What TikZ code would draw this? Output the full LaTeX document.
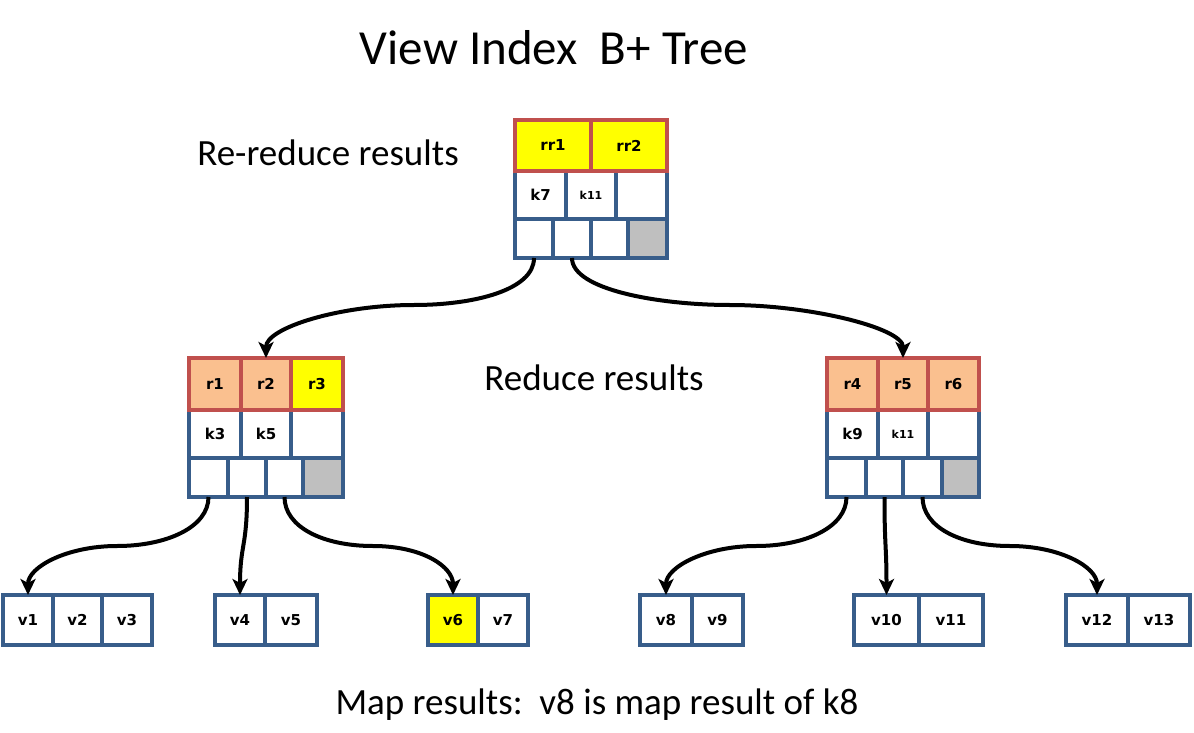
\documentclass[tikz,border=0pt]{standalone}
\usepackage{fontspec}
\setmainfont{Carlito}
\newfontfamily\cellfnt{DejaVu Sans}
\usetikzlibrary{arrows.meta}
\definecolor{bblue}{RGB}{56,93,138}
\definecolor{rred}{RGB}{192,80,77}
\definecolor{peach}{RGB}{250,192,143}
\definecolor{ylw}{RGB}{255,255,0}
\definecolor{gry}{RGB}{191,191,191}
\newcommand\cellat[7]{\node[#6, minimum width={(#4)-(#2)}, minimum height={(#5)-(#3)}] (#1) at ({((#2)+(#4))/2},{((#3)+(#5))/2}) {#7};}
\begin{document}
\begin{tikzpicture}[x=1pt,y=-1pt,
  cellb/.style={draw=bblue, line width=3.6pt, fill=white, inner sep=0pt, outer sep=0pt, font=\cellfnt\bfseries\fontsize{15}{15}\selectfont},
  cellr/.style={cellb, draw=rred},
  small/.style={font=\cellfnt\bfseries\fontsize{11}{11}\selectfont},
  arr/.style={line width=4pt, -{Stealth[length=16pt,width=15pt,inset=4pt]}},
  lbl/.style={font=\fontsize{37}{40}\selectfont, inner sep=0pt}]
\useasboundingbox (0,0) rectangle (1194,733);
\fill[white] (0,0) rectangle (1194,733);

% titles
\node[lbl, font=\fontsize{49}{50}\selectfont] (title) at (554,48) {View Index\ \ B+ Tree};
\node[lbl] (rrlab) at (328,153) {Re-reduce results};
\node[lbl] (rlab) at (594,378) {Reduce results};
\node[lbl] (mlab) at (597,705) {Map results:\ \ v8 is map result of k8};

% root node
\cellat{rk1}{515}{171}{566}{219}{cellb}{k7}
\cellat{rk2}{566}{171}{616}{219}{cellb, small}{k11}
\cellat{rk3}{616}{171}{667}{219}{cellb}{}
\cellat{rb1}{515}{219}{553}{258}{cellb}{}
\cellat{rb2}{553}{219}{591}{258}{cellb}{}
\cellat{rb3}{591}{219}{628}{258}{cellb}{}
\cellat{rb4}{628}{219}{667}{258}{cellb, fill=gry}{}
\cellat{rr1}{515}{120}{591}{171}{cellr, fill=ylw}{rr1}
\cellat{rr2}{591}{120}{667}{171}{cellr, fill=ylw}{rr2}

% left inner node
\cellat{lk1}{189}{410}{241}{458}{cellb}{k3}
\cellat{lk2}{241}{410}{291}{458}{cellb}{k5}
\cellat{lk3}{291}{410}{343}{458}{cellb}{}
\cellat{lb1}{189}{458}{228}{497}{cellb}{}
\cellat{lb2}{228}{458}{266}{497}{cellb}{}
\cellat{lb3}{266}{458}{303}{497}{cellb}{}
\cellat{lb4}{303}{458}{343}{497}{cellb, fill=gry}{}
\cellat{lr1}{189}{358}{241}{410}{cellr, fill=peach}{r1}
\cellat{lr2}{241}{358}{291}{410}{cellr, fill=peach}{r2}
\cellat{lr3}{291}{358}{343}{410}{cellr, fill=ylw}{r3}

% right inner node
\cellat{qk1}{827}{410}{878}{458}{cellb}{k9}
\cellat{qk2}{878}{410}{928}{458}{cellb, small}{k11}
\cellat{qk3}{928}{410}{979}{458}{cellb}{}
\cellat{qb1}{827}{458}{866}{497}{cellb}{}
\cellat{qb2}{866}{458}{903}{497}{cellb}{}
\cellat{qb3}{903}{458}{942}{497}{cellb}{}
\cellat{qb4}{942}{458}{979}{497}{cellb, fill=gry}{}
\cellat{qr1}{827}{358}{878}{410}{cellr, fill=peach}{r4}
\cellat{qr2}{878}{358}{928}{410}{cellr, fill=peach}{r5}
\cellat{qr3}{928}{358}{979}{410}{cellr, fill=peach}{r6}

% leaves
\cellat{v1}{3}{595}{53}{645}{cellb}{v1}
\cellat{v2}{53}{595}{102}{645}{cellb}{v2}
\cellat{v3}{102}{595}{152}{645}{cellb}{v3}
\cellat{v4}{215}{595}{265}{645}{cellb}{v4}
\cellat{v5}{265}{595}{317}{645}{cellb}{v5}
\cellat{v6}{428}{595}{478}{645}{cellb, fill=ylw}{v6}
\cellat{v7}{478}{595}{528}{645}{cellb}{v7}
\cellat{v8}{640}{595}{692}{645}{cellb}{v8}
\cellat{v9}{692}{595}{743}{645}{cellb}{v9}
\cellat{v10}{854}{595}{919}{645}{cellb}{v10}
\cellat{v11}{919}{595}{983}{645}{cellb}{v11}
\cellat{v12}{1066}{595}{1128}{645}{cellb}{v12}
\cellat{v13}{1128}{595}{1190}{645}{cellb}{v13}

% connectors
\coordinate (ma) at (414,305);
\coordinate (mb) at (730,305);
\coordinate (mc) at (117,546);
\coordinate (md) at (373,546);
\coordinate (me) at (756,546);
\coordinate (mf) at (1010,546);

\draw[arr] (rb1.south) .. controls +(0,32) and +(60,0) .. (ma) .. controls +(-75,0) and +(0,-30) .. (lr2.north);
\draw[arr] (rb2.south) .. controls +(0,32) and +(-70,0) .. (mb) .. controls +(80,0) and +(0,-30) .. (qr2.north);

\draw[arr] (lb1.south) .. controls +(0,30) and +(50,0) .. (mc) .. controls +(-50,0) and +(0,-28) .. (v1.north);
\draw[arr] (lb2.south) .. controls +(0,50) and +(0,-50) .. (v4.north);
\draw[arr] (lb3.south) .. controls +(0,30) and +(-50,0) .. (md) .. controls +(50,0) and +(0,-28) .. (v6.north);

\draw[arr] (qb1.south) .. controls +(0,30) and +(50,0) .. (me) .. controls +(-50,0) and +(0,-28) .. (v8.north);
\draw[arr] (qb2.south) .. controls +(0,50) and +(0,-50) .. (v10.north);
\draw[arr] (qb3.south) .. controls +(0,30) and +(-50,0) .. (mf) .. controls +(50,0) and +(0,-28) .. (v12.north);
\end{tikzpicture}
\end{document}
